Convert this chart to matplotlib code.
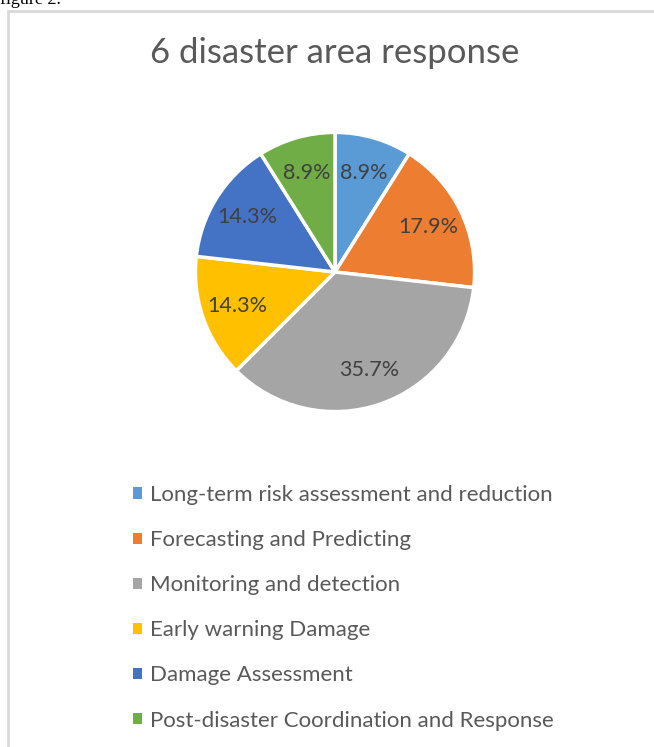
import matplotlib
matplotlib.use("Agg")
import matplotlib.pyplot as plt
from matplotlib.patches import Rectangle

# data
categories = [ "Long-term risk assessment and reduction", "Forecasting and Predicting",
               "Monitoring and detection", "Early warning Damage",
               "Damage Assessment", "Post-disaster Coordination and Response" ]
counts = [ 5, 10, 20, 8, 8, 5 ]
colors = [ "#5b9bd5", "#ed7d31", "#a5a5a5", "#ffc000", "#4472c4", "#70ad47" ]
title = "6 disaster area response"

W, H = 654, 747
fig = plt.figure( figsize=(W/100, H/100), dpi=100 )
fig.patch.set_facecolor( "white" )

# chart frame (cut by the screenshot on right and bottom)
frame = Rectangle( (7.5/W, -0.1), 1.2, 1.1 - 10.5/H, transform=fig.transFigure,
                   facecolor="none", edgecolor="#d9d9d9", lw=2 )
fig.patches.append( frame )

# caption above the frame, cut off at top
fig.text( 0, 1 - 4/H, "figure 2.", family="Liberation Serif", fontsize=13,
          color="black", va="baseline", ha="left" )

fig.text( 335/W, 1 - 53/H, title, family="Lato", fontsize=25, color="#595959",
          ha="center", va="center" )

# pie
cx, cy, r = 335, 272, 141
ax = fig.add_axes( [ (cx - r)/W, (H - cy - r)/H, 2*r/W, 2*r/H ] )
wedges, texts, autotexts = ax.pie( counts, colors=colors, startangle=90, counterclock=False,
                                   autopct="%1.1f%%", pctdistance=0.74,
                                   wedgeprops=dict( edgecolor="white", linewidth=2.5 ),
                                   textprops=dict( family="Lato", fontsize=15.5, color="#404040" ) )
ax.set_xlim( -1.01, 1.01 )
ax.set_ylim( -1.01, 1.01 )
ax.set_aspect( "equal" )
ax.axis( "off" )

leg = fig.legend( wedges, categories, loc="upper left",
                  bbox_to_anchor=( 133/W, 1 - 485/H ), frameon=False,
                  prop=dict( family="Lato", size=16 ),
                  handlelength=0.4, handleheight=0.4, handletextpad=0.36,
                  labelspacing=1.13, borderaxespad=0, borderpad=0 )
for t in leg.get_texts():
    t.set_color( "#595959" )
for h in leg.legend_handles:
    h.set_edgecolor( "none" )

fig.savefig( "out.png", dpi=100 )
